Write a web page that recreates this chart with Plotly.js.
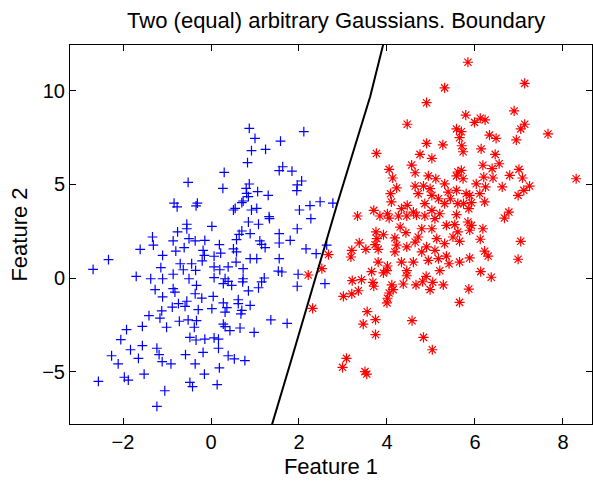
<!DOCTYPE html>
<html>
<head>
<meta charset="utf-8">
<script src="https://cdn.plot.ly/plotly-3.0.1.min.js"></script>
<style>html,body{margin:0;padding:0;background:#fff;}#chart{width:593px;height:482px;}</style>
</head>
<body>
<div id="chart"></div>
<script>
const blueX = [-0.52,-0.84,-0.77,-0.31,-0.34,0.87,1.0,2.11,1.58,0.92,1.24,0.83,0.30,1.63,1.55,1.84,2.06,1.96,1.95,0.27,0.87,0.80,0.81,1.06,1.30,0.85,0.73,0.70,0.55,0.51,1.04,0.92,2.01,2.25,2.48,2.77,1.32,
-0.55,-0.55,-0.76,-1.33,-1.31,-0.86,-0.50,-0.36,-0.14,-0.61,-1.61,-0.80,-1.10,-0.18,-0.15,-2.33,-2.68,-0.20,-0.70,-0.44,-1.14,-0.63,-0.35,-0.86,-0.50,-1.70,-1.37,-1.10,-0.33,-0.86,-1.27,-0.82,-0.36,-1.10,-0.21,-0.55,-0.74,-0.88,-0.59,-1.12,-0.29,
0.02,0.85,1.08,1.33,2.27,0.70,0.64,0.89,1.96,1.55,0.58,0.19,1.11,1.15,1.23,1.55,1.80,0.51,0.22,0.07,0.58,2.16,2.39,2.63,0.89,1.04,1.55,0.57,0.07,0.20,0.39,0.73,1.53,1.61,1.98,0.07,0.32,0.39,0.28,0.47,0.73,0.72,1.21,1.15,1.96,2.59,1.08,0.85,0.05,0.62,0.28,0.62,0.89,0.36,0.02,0.32,0.70,
-1.41,-1.16,-0.72,-0.52,-0.33,-0.38,-1.01,-1.56,-1.92,-0.48,-0.34,-0.14,-2.05,-1.56,-1.23,-1.83,-0.18,-2.26,-1.18,-0.58,-1.65,-1.11,-0.91,-2.11,-0.36,-1.52,-0.15,-1.97,-1.88,-2.56,-0.48,-0.42,-1.05,-1.23,
0.28,0.32,0.43,0.66,0.98,1.36,1.73,0.07,0.17,0.17,0.39,0.53,0.77,0.19,0.14,0.68];
const blueY = [5.11,4.0,3.8,4.0,3.85,7.99,7.45,7.81,7.31,6.8,6.87,6.16,5.64,5.94,5.73,5.71,5.18,4.97,4.66,4.79,5.02,4.79,4.52,4.61,4.41,4.34,4.11,4.02,3.72,3.63,3.72,3.63,3.63,3.86,4.07,4.0,3.28,
2.87,2.63,2.46,2.19,1.75,1.98,2.10,1.98,2.01,1.62,1.53,1.43,1.21,1.48,1.21,0.98,0.46,0.91,0.76,0.76,0.55,0.44,0.41,0.20,-0.04,0.09,-0.04,-0.04,-0.39,-0.57,-0.62,-0.75,-0.84,-1.01,-1.07,-1.24,-1.37,-1.55,-1.51,-1.76,-1.69,
2.76,2.99,2.87,3.17,3.17,2.51,2.33,2.37,2.63,2.37,2.05,1.78,1.98,1.80,1.62,1.87,2.01,1.56,1.33,1.16,1.39,1.56,1.30,1.75,1.03,1.03,1.03,0.85,0.59,0.44,0.59,0.50,0.37,0.32,0.20,0.02,-0.04,-0.18,-0.30,-0.39,-0.04,-0.21,0.0,-0.21,-0.44,-0.30,-0.52,-0.69,-0.98,-1.16,-1.33,-1.37,-1.46,-1.58,-1.64,-1.82,-1.73,
-2.01,-2.14,-2.31,-2.24,-2.28,-2.63,-2.63,-2.58,-2.76,-3.17,-3.31,-3.26,-3.29,-3.61,-3.75,-3.83,-3.97,-4.15,-4.09,-4.09,-4.29,-4.47,-4.59,-4.59,-4.59,-5.13,-5.13,-5.30,-5.45,-5.52,-5.57,-5.80,-6.02,-6.85,
-2.46,-2.60,-2.81,-2.67,-2.90,-2.24,-2.42,-3.20,-3.26,-3.75,-4.15,-4.32,-4.41,-4.80,-5.69,-1.92];

const redX = [5.31,4.90,4.46,4.90,5.27,3.76,4.75,5.02,5.84,7.13,6.89,5.79,6.12,6.23,5.99,7.13,7.04,5.58,5.69,7.66,6.33,6.48,5.65,6.94,5.70,6.14,5.73,6.46,
3.33,3.70,4.05,4.13,4.22,4.08,4.10,4.56,4.64,4.94,5.11,4.64,4.83,4.98,4.71,5.02,5.17,4.86,4.46,4.33,4.60,5.02,5.20,3.84,4.01,4.05,4.26,4.45,4.67,4.86,5.09,4.30,4.43,4.79,5.02,3.75,3.92,3.77,4.18,4.71,5.13,3.37,3.73,3.52,3.20,3.80,4.22,4.45,4.18,4.64,4.90,5.09,2.67,3.18,4.79,3.80,4.33,4.60,4.94,5.17,4.01,
5.61,5.69,5.58,5.73,6.18,6.39,6.55,7.0,6.79,7.08,6.20,6.41,8.30,5.31,6.03,6.24,6.62,7.24,7.11,6.98,5.39,5.58,5.80,5.88,6.11,5.44,5.61,5.74,5.92,6.22,5.31,5.86,5.58,6.77,6.67,5.84,5.92,5.54,5.35,5.61,5.88,6.18,5.50,5.65,6.12,7.04,5.31,6.22,6.30,5.35,5.88,6.98,5.65,5.41,
2.21,2.31,3.21,3.42,3.01,3.20,3.35,3.65,3.92,4.0,3.68,3.70,4.11,4.14,4.05,4.01,4.0,4.37,4.45,4.45,4.66,4.89,4.81,5.04,4.98,5.20,5.28,3.55,3.74,3.46,4.57,3.74,4.83,5.03,3.08,2.99,3.50,3.54,
6.13,6.37,5.86,5.65,2.52];
const redY = [10.15,9.36,8.21,7.19,7.11,6.65,6.60,6.39,11.52,10.39,8.92,8.70,8.53,8.44,8.31,8.21,7.96,7.96,7.81,7.69,7.63,7.46,7.49,7.37,7.06,6.89,6.74,6.60,
3.31,3.61,5.80,5.34,4.81,4.50,4.06,6.03,5.62,5.45,5.30,4.91,4.91,4.77,4.50,4.41,4.23,3.97,3.88,3.70,3.52,3.61,3.43,3.31,3.43,3.20,3.31,3.31,3.35,3.31,3.17,2.72,2.42,2.63,2.63,2.46,2.31,2.10,2.14,2.19,2.10,1.88,1.78,1.53,1.48,1.53,1.75,1.66,1.39,1.92,1.66,1.48,1.25,1.12,1.39,0.85,0.85,0.85,0.94,1.03,0.64,
5.66,5.75,5.45,5.30,6.02,5.84,6.10,5.80,5.48,5.34,5.39,5.34,5.30,5.03,5.03,4.86,4.86,4.91,4.68,4.41,4.59,4.68,4.50,4.41,4.50,4.23,3.97,3.97,4.02,4.06,3.97,3.70,3.38,3.52,3.20,2.99,2.81,2.85,2.81,2.46,2.55,2.63,2.19,1.96,2.07,1.96,1.83,1.43,1.17,1.17,1.07,1.00,0.85,0.76,
0.16,-1.62,-0.14,-0.09,-0.98,-0.85,-0.68,0.34,0.27,0.39,-0.23,-0.44,-0.37,-0.62,-0.80,-1.08,-1.33,-0.32,0.12,0.39,-0.37,0.09,-0.20,-0.23,-0.62,0.39,-0.37,-1.80,-2.22,-2.46,-2.28,-3.02,-3.17,-3.83,-4.29,-4.77,-5.0,-5.13,
0.34,0.04,-0.59,-1.30,0.5];

const boundaryX = [3.96,3.91,3.62,2.86,2.48,2.14,1.81,1.39,1.36];
const boundaryY = [12.9,12.44,9.7,3.88,0.8,-1.9,-4.5,-7.8,-8.1];

const xTicks = [-2,0,2,4,6,8];
const yTicks = [-5,0,5,10];

const font = 'Liberation Sans, Arial, Helvetica, sans-serif';

const traces = [
  {x: blueX, y: blueY, type: 'scatter', mode: 'markers',
   marker: {symbol: 'cross-thin-open', size: 7, color: 'rgb(0,0,255)', line: {color: 'rgb(0,0,255)', width: 1.2}}},
  {x: redX, y: redY, type: 'scatter', mode: 'markers',
   marker: {symbol: 'asterisk-open', size: 8.5, color: 'rgb(255,0,0)', line: {color: 'rgb(255,0,0)', width: 1.2}}},
  {x: boundaryX, y: boundaryY, type: 'scatter', mode: 'lines',
   line: {color: 'black', width: 2}}
];

const axisCommon = {
  showgrid: false, zeroline: false, showline: true, linecolor: 'black', linewidth: 1,
  mirror: 'ticks', ticks: 'inside', ticklen: 6, tickcolor: 'black', tickwidth: 1,
  tickfont: {family: font, size: 20, color: 'black'}
};

const layout = {
  width: 593, height: 482,
  margin: {l: 70, r: 1, t: 45, b: 58},
  paper_bgcolor: 'white', plot_bgcolor: 'white',
  showlegend: false,
  title: {text: 'Two (equal) arbitrary Gaussians. Boundary', font: {family: font, size: 22, color: 'black'},
          x: 0.51, xref: 'paper', xanchor: 'center', y: 0.958, yanchor: 'middle'},
  xaxis: Object.assign({}, axisCommon, {range: [-3.205, 8.66], tickvals: xTicks, ticktext: xTicks.map(v => v < 0 ? '\u2212' + Math.abs(v) : String(v)),
          title: {text: 'Feature 1', font: {family: font, size: 22, color: 'black'}, standoff: 6}}),
  yaxis: Object.assign({}, axisCommon, {range: [-7.795, 12.44], tickvals: yTicks, ticktext: yTicks.map(v => v < 0 ? '\u2212' + Math.abs(v) : String(v)),
          title: {text: 'Feature 2', font: {family: font, size: 22, color: 'black'}, standoff: 8}})
};

Plotly.newPlot('chart', traces, layout, {displayModeBar: false, staticPlot: true});
</script>
</body>
</html>
